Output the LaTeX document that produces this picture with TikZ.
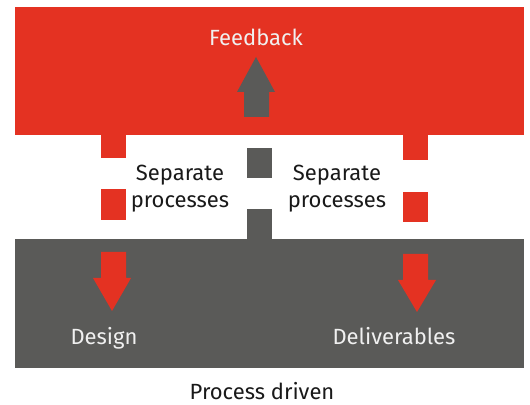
\documentclass[tikz,border=0pt]{standalone}
\usepackage{fontspec}
\setmainfont{Fira Sans}
\definecolor{fbred}{HTML}{E43222}
\definecolor{pdgray}{HTML}{5A5A58}
\tikzset{
  redpart/.style={fill=fbred},
  graypart/.style={fill=pdgray},
  boxlabel/.style={text=white!94!black, anchor=base, font=\fontsize{11}{13}\selectfont},
  sidenote/.style={text=black!90, align=center, font=\fontsize{11}{13.5}\selectfont},
}
\begin{document}
\begin{tikzpicture}[x=0.5pt, y=-0.5pt]
			\useasboundingbox (0,0) rectangle (530,405);
			
			% Outer boxes
			\fill [redpart] (15,7) rectangle (524,135) node[midway] (feedback) {};
			\fill [graypart] (15,239) rectangle (524,368) node[midway] (process) {};
			
			% Up arrow into feedback
			\fill [graypart] (244,117) -- (244,92) -- (237,92) -- (256,57) -- (275,92) -- (269,92) -- (269,117) -- cycle;
			\fill [graypart] (247,148) rectangle (272,178);
			\fill [graypart] (247,209) rectangle (272,239);
			
			% Left down arrow
			\fill [redpart] (101,135) rectangle (126,158);
			\fill [redpart] (101,189) rectangle (126,220);
			\fill [redpart] (101,252) -- (101,278) -- (93,278) -- (112,311) -- (131,278) -- (126,278) -- (126,252) -- cycle;
			
			% Right down arrow
			\fill [redpart] (403,135) rectangle (428,160);
			\fill [redpart] (403,192) rectangle (428,222);
			\fill [redpart] (403,254) -- (403,280) -- (398,280) -- (417,312) -- (436,280) -- (428,280) -- (428,254) -- cycle;
			
			% Labels
			\node [boxlabel] (fbtext) at (256,46) {Feedback};
			\node [boxlabel] (design) at (104,345) {Design};
			\node [boxlabel] (deliver) at (394,345) {Deliverables};
			\node [sidenote] (sepleft) at (180,189) {Separate\\processes};
			\node [sidenote] (sepright) at (337,189) {Separate\\processes};
			\node [sidenote, anchor=base] (driven) at (262,400) {Process driven};
		\end{tikzpicture}
\end{document}
